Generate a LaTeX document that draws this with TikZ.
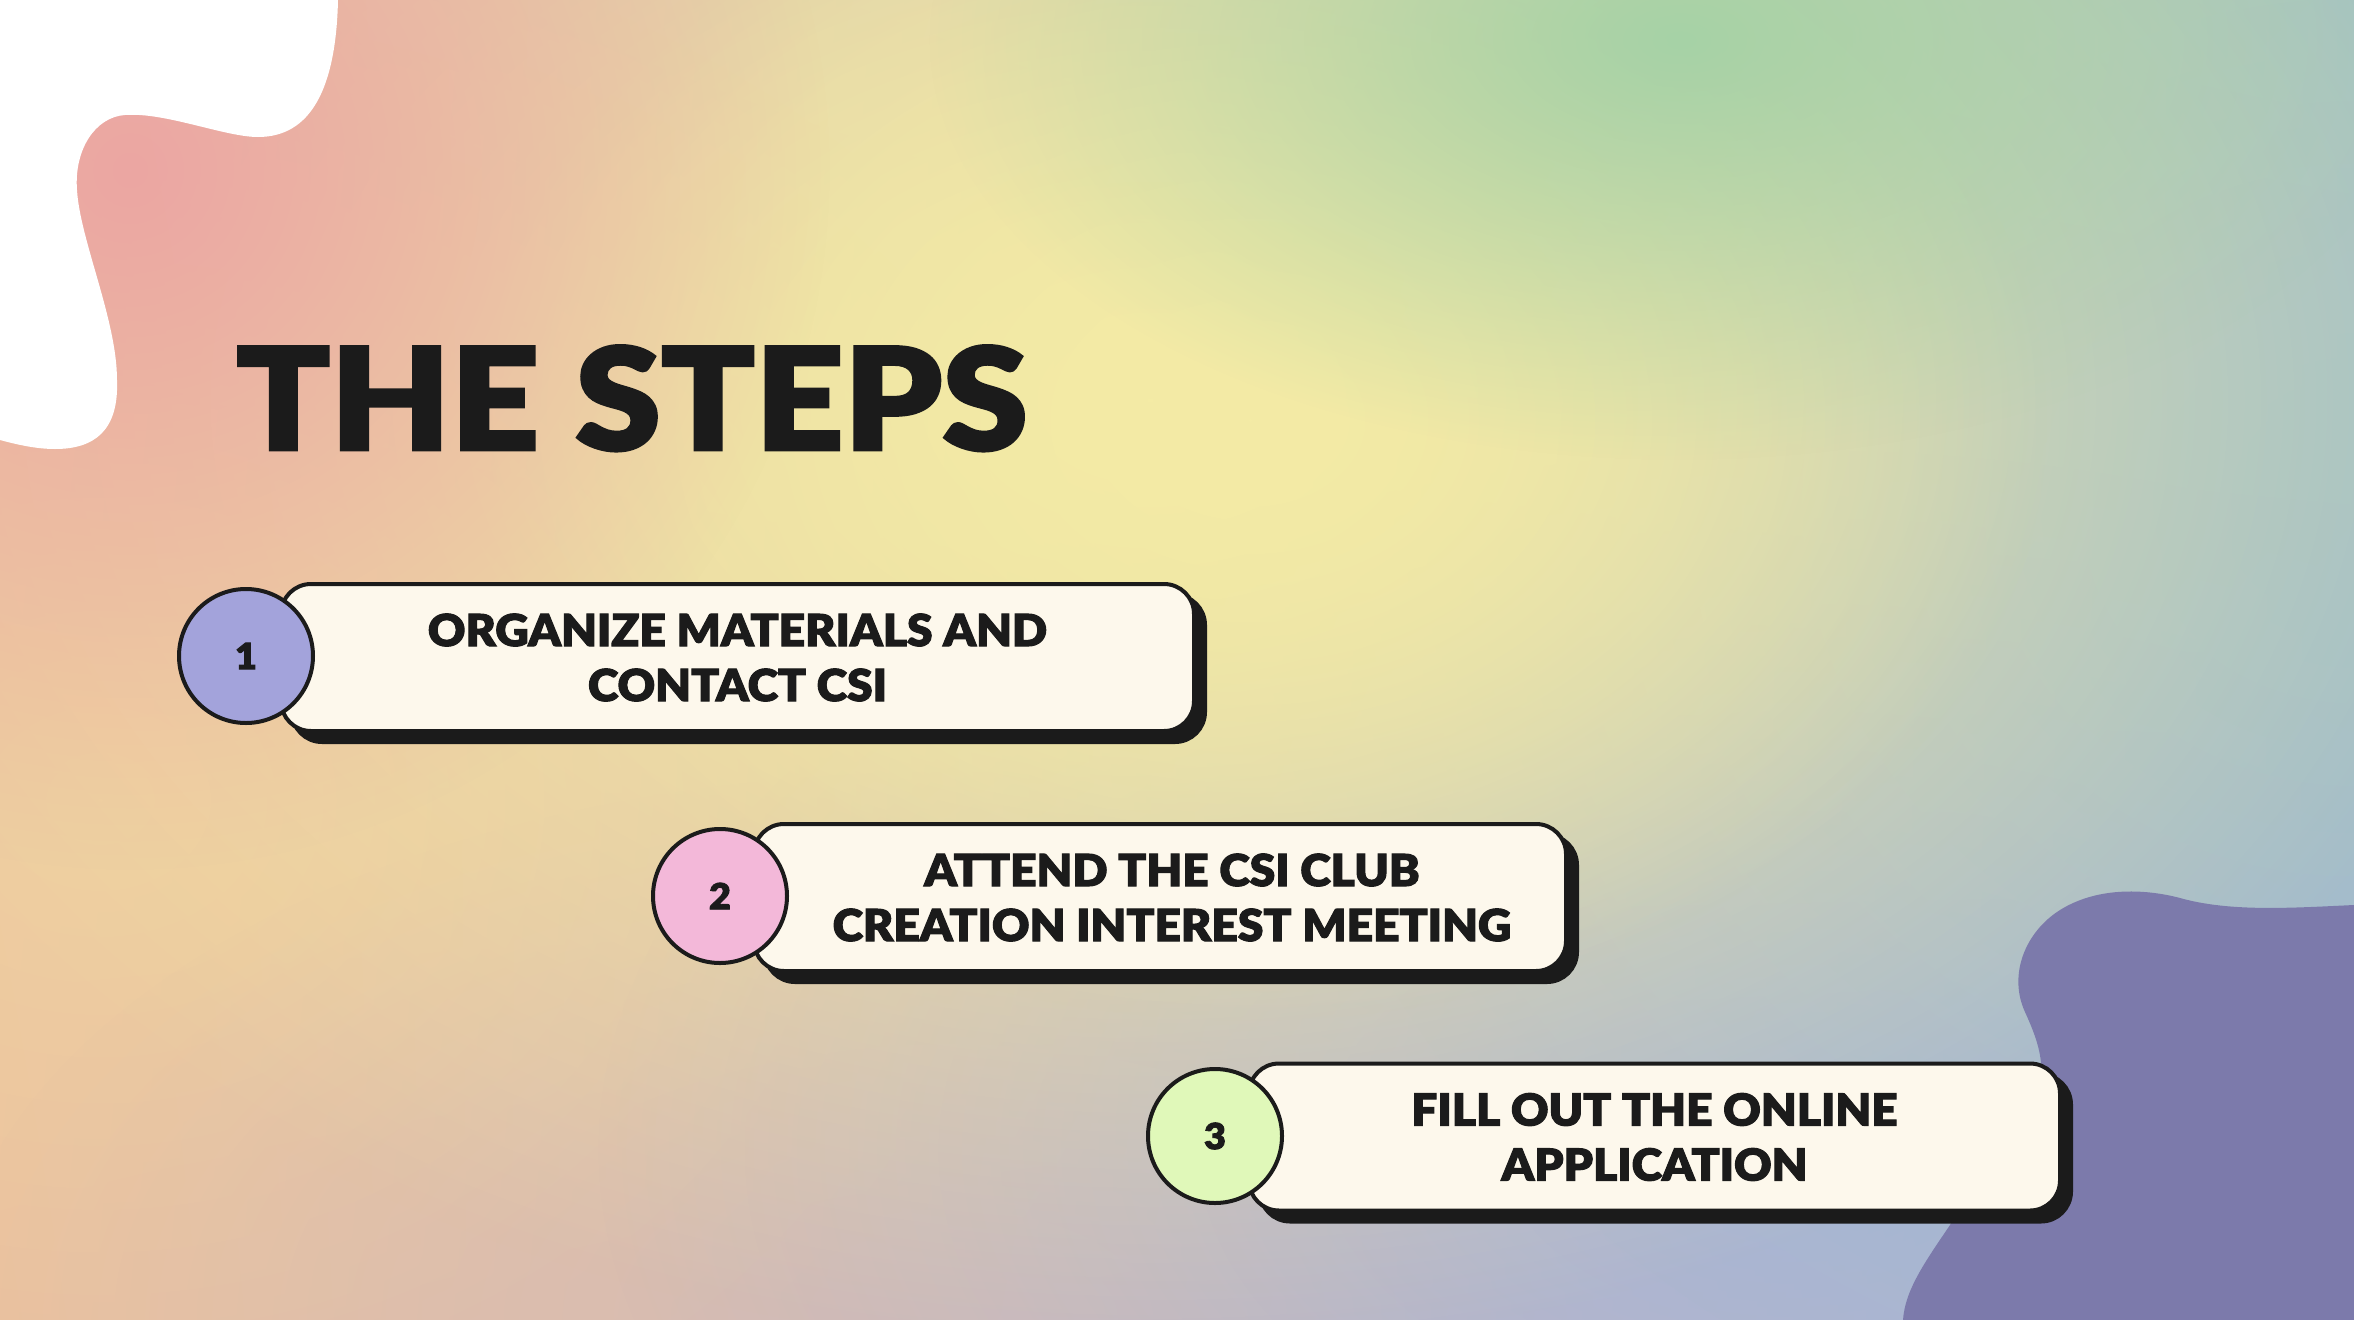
\documentclass[tikz,border=0pt]{standalone}
\usepackage{fontspec}
\newfontfamily\titlefont{Lato Black}[FakeStretch=1.09, FakeBold=2]
\newfontfamily\stepfont{Lato Black}[FakeStretch=1.05, FakeBold=2.4]
\usetikzlibrary{fadings,shadows,shadings}
\definecolor{ink}{HTML}{1B1B1B}
\definecolor{cream}{HTML}{FDF8EC}
\definecolor{lav}{HTML}{A3A3DB}
\definecolor{pinkc}{HTML}{F3B8D9}
\definecolor{greenc}{HTML}{E0F8B9}
\definecolor{blobpurple}{HTML}{7C7AAB}
\definecolor{bgUL}{HTML}{EDBFA3}
\definecolor{bgUR}{HTML}{A8C6C0}
\definecolor{bgLL}{HTML}{E9B99E}
\definecolor{bgLR}{HTML}{A8B5D3}
\definecolor{gPink}{HTML}{EBA6A3}
\definecolor{gYellow}{HTML}{F4EBA5}
\definecolor{gGreen}{HTML}{A6D2A6}
\definecolor{gPeach}{HTML}{EFCFA0}
\definecolor{gMauve}{HTML}{D8BDB4}
\definecolor{gBlue}{HTML}{A8B5D6}
\definecolor{gTeal}{HTML}{A2C0C8}
\tikzfading[name=softblob, inner color=transparent!0, outer color=transparent!100]
\tikzset{
  glow/.style={path fading=softblob},
  stepbox/.style={draw=ink, line width=4pt, fill=cream, rounded corners=30pt,
    minimum height=147pt, inner sep=0pt, align=center,
    font=\stepfont\fontsize{44}{55}\selectfont, text=ink,
    drop shadow={shadow xshift=11pt, shadow yshift=-11pt, opacity=1, fill=ink, draw=ink}},
  stepnum/.style={circle, draw=ink, line width=4pt, minimum size=134pt, inner sep=0pt,
    font=\stepfont\fontsize{36}{36}\selectfont, text=ink},
}
\begin{document}
\begin{tikzpicture}[x=1pt,y=-1pt]
\useasboundingbox (0,0) rectangle (2354,1320);
\begin{scope}
\clip (0,0) rectangle (2354,1320);
\shade[upper left=bgUL, upper right=bgUR, lower left=bgLL, lower right=bgLR] (0,0) rectangle (2354,1320);
\fill[gPeach, glow] (100,800) ellipse (1100 and 900);
\fill[gMauve, glow] (950,1320) ellipse (1000 and 550);
\fill[gBlue, glow] (1800,1150) ellipse (1200 and 700);
\fill[gTeal, glow] (2354,500) ellipse (1100 and 1000);
\fill[gYellow, glow] (1150,400) ellipse (1400 and 950);
\fill[gYellow, glow] (1250,420) ellipse (800 and 600);
\fill[gGreen, glow] (1680,40) ellipse (750 and 420);
\fill[gPink, glow] (130,170) ellipse (700 and 700);
% white blob top-left
\fill[white] (0,0) -- (338,0) .. controls (336,90) and (310,137) .. (258,137)
  .. controls (225,137) and (165,112) .. (125,115)
  .. controls (95,117) and (74,150) .. (77,190)
  .. controls (80,240) and (117,320) .. (117,380)
  .. controls (119,430) and (95,449) .. (55,449)
  .. controls (35,449) and (15,444) .. (0,440) -- cycle;
% purple blob bottom-right
\fill[blobpurple] (2354,905) .. controls (2290,908) and (2230,912) .. (2180,898)
  .. controls (2150,890) and (2100,885) .. (2060,910)
  .. controls (2025,932) and (2008,975) .. (2025,1012)
  .. controls (2040,1045) and (2048,1070) .. (2035,1110)
  .. controls (2010,1160) and (1970,1190) .. (1950,1225)
  .. controls (1925,1262) and (1905,1290) .. (1903,1320) -- (2354,1320) -- cycle;
\end{scope}
% title
\node[anchor=base west, inner sep=0pt, text=ink, font=\titlefont\fontsize{142}{142}\selectfont] (title) at (236,450) {THE STEPS};
% steps
\node[stepbox, minimum width=913pt] (b1) at (737.5,657.5) {ORGANIZE MATERIALS AND\\CONTACT CSI};
\node[stepnum, fill=lav] (n1) at (246,656) {1};
\node[stepbox, minimum width=812pt] (b2) at (1160,897.5) {\hspace*{24pt}ATTEND THE CSI CLUB\\\hspace*{24pt}CREATION INTEREST MEETING};
\node[stepnum, fill=pinkc] (n2) at (720,896) {2};
\node[stepbox, minimum width=811pt] (b3) at (1654.5,1137) {FILL OUT THE ONLINE\\APPLICATION};
\node[stepnum, fill=greenc] (n3) at (1215,1136) {3};
\end{tikzpicture}
\end{document}
